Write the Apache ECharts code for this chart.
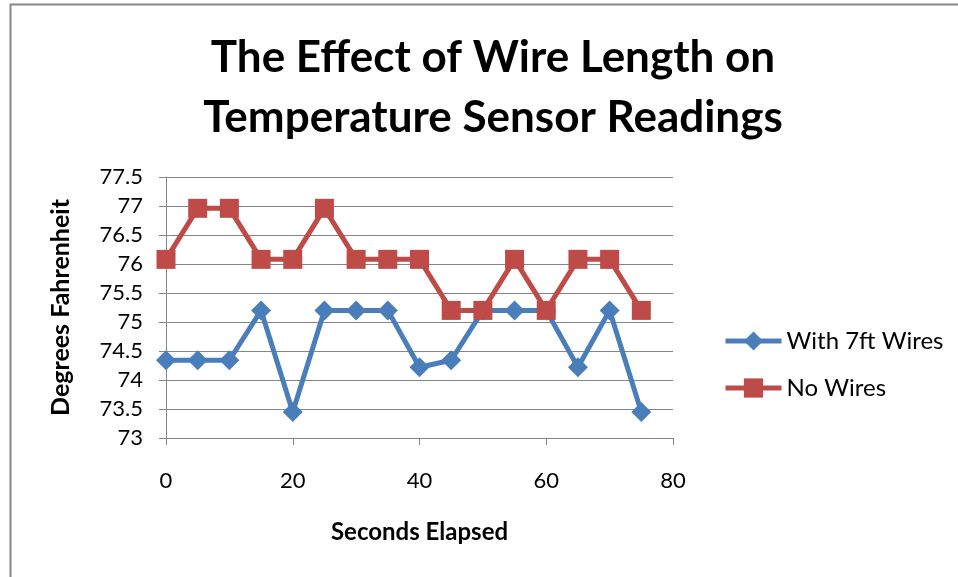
<!DOCTYPE html>
<html>
<head>
<meta charset="utf-8">
<script src="https://cdn.jsdelivr.net/npm/echarts@6/dist/echarts.min.js"></script>
<style>
html,body{margin:0;padding:0;background:#fff;}
#chart{width:958px;height:577px;}
</style>
</head>
<body>
<div id="chart"></div>
<script>
const seconds = [0, 5, 10, 15, 20, 25, 30, 35, 40, 45, 50, 55, 60, 65, 70, 75];
const withWires = [74.34, 74.34, 74.34, 75.2, 73.45, 75.2, 75.2, 75.2, 74.22, 74.34, 75.2, 75.2, 75.2, 74.22, 75.2, 73.45];
const noWires = [76.08, 76.96, 76.96, 76.08, 76.08, 76.96, 76.08, 76.08, 76.08, 75.2, 75.2, 76.08, 75.2, 76.08, 76.08, 75.2];
const seriesNames = ['With 7ft Wires', 'No Wires'];
const titleText = 'The Effect of Wire Length on\nTemperature Sensor Readings';
const xName = 'Seconds Elapsed';
const yName = 'Degrees Fahrenheit';

const pair = (xs, ys) => xs.map((x, i) => [x, ys[i]]);
const font = 'Lato, "Open Sans", sans-serif';
const gridColor = '#868686';
const blue = '#4a7ebb';
const red = '#be4b48';

const chart = echarts.init(document.getElementById('chart'));
chart.setOption({
  backgroundColor: '#fff',
  animation: false,
  graphic: [{
    type: 'rect',
    shape: {x: 10.5, y: 4.5, width: 1000, height: 1000},
    style: {fill: 'none', stroke: '#888', lineWidth: 2},
    silent: true, z: -1
  }],
  title: {
    text: titleText,
    left: 488, top: 23, textAlign: 'center',
    textStyle: {fontFamily: font, fontWeight: 'bold', fontSize: 44, lineHeight: 60, color: '#000'}
  },
  legend: {
    orient: 'vertical',
    left: 718, top: 324,
    itemWidth: 56, itemHeight: 24, itemGap: 23,
    textStyle: {fontFamily: font, fontSize: 24, color: '#000'},
    data: [
      {name: seriesNames[0], lineStyle: {width: 5, color: blue}},
      {name: seriesNames[1], lineStyle: {width: 5, color: red}}
    ]
  },
  grid: {left: 166, top: 177, width: 507, height: 261, containLabel: false},
  xAxis: {
    type: 'value', min: 0, max: 80, interval: 20,
    name: xName, nameLocation: 'middle', nameGap: 82,
    nameTextStyle: {fontFamily: font, fontWeight: 'bold', fontSize: 24, color: '#000'},
    axisLine: {show: true, lineStyle: {color: gridColor, width: 1}},
    axisTick: {show: true, inside: false, length: 7, lineStyle: {color: gridColor}},
    axisLabel: {fontFamily: font, fontSize: 22, color: '#000', margin: 32},
    splitLine: {show: false}
  },
  yAxis: {
    type: 'value', min: 73, max: 77.5, interval: 0.5,
    name: yName, nameLocation: 'middle', nameGap: 93, nameRotate: 90,
    nameTextStyle: {fontFamily: font, fontWeight: 'bold', fontSize: 25, color: '#000'},
    axisLine: {show: true, lineStyle: {color: gridColor, width: 1}},
    axisTick: {show: true, inside: false, length: 7, lineStyle: {color: gridColor}},
    axisLabel: {fontFamily: font, fontSize: 22, color: '#000', margin: 23},
    splitLine: {show: true, lineStyle: {color: gridColor, width: 1}}
  },
  series: [
    {
      name: seriesNames[0], type: 'line', data: pair(seconds, withWires),
      symbol: 'diamond', symbolSize: 20,
      lineStyle: {color: blue, width: 5},
      itemStyle: {color: blue}, z: 3
    },
    {
      name: seriesNames[1], type: 'line', data: pair(seconds, noWires),
      symbol: 'rect', symbolSize: 19,
      lineStyle: {color: red, width: 5},
      itemStyle: {color: red}, z: 4
    }
  ]
});
</script>
</body>
</html>
